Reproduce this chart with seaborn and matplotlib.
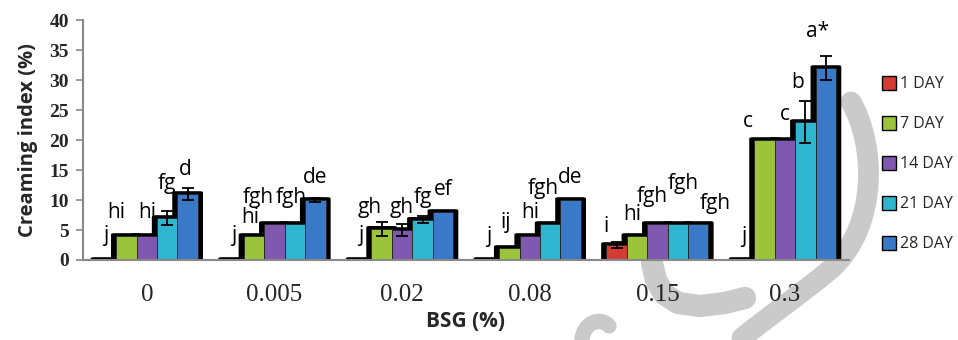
import numpy as np
import pandas as pd
import matplotlib
matplotlib.use("Agg")
import matplotlib.pyplot as plt
from matplotlib.patches import FancyBboxPatch, PathPatch
from matplotlib.path import Path
import seaborn as sns

# data
bsg_levels = ["0", "0.005", "0.02", "0.08", "0.15", "0.3"]
days = ["1 DAY", "7 DAY", "14 DAY", "21 DAY", "28 DAY"]

day1 = [0, 0, 0, 0, 2.5, 0]
day7 = [4, 4, 5.2, 2, 4, 20]
day14 = [4, 6, 5, 4, 6, 20]
day21 = [7, 6, 6.7, 6, 6, 23]
day28 = [11, 10, 8, 10, 6, 32]

err1 = [0, 0, 0, 0, 0.5, 0]
err7 = [0, 0, 1.2, 0, 0, 0]
err14 = [0, 0, 1.0, 0, 0, 0]
err21 = [1.1, 0, 0.6, 0, 0, 3.5]
err28 = [1.0, 0.3, 0, 0, 0, 2.0]

letters1 = ["j", "j", "j", "j", "i", "j"]
letters7 = ["hi", "hi", "gh", "ij", "hi", "c"]
letters14 = ["hi", "fgh", "gh", "hi", "fgh", "c"]
letters21 = ["fg", "fgh", "fg", "fgh", "fgh", "b"]
letters28 = ["d", "de", "ef", "de", "fgh", "a*"]

values = [day1, day7, day14, day21, day28]
errors = [err1, err7, err14, err21, err28]
letters = [letters1, letters7, letters14, letters21, letters28]

# label placement tweaks (style): horizontal shift in px, gap above bar/error in y units
label_dx = [[0, 0, 0, 0, -11, 0],
            [-10, -4, -12, -4, -5, -17],
            [0, -16, 0, 0, -5, 0],
            [0, -4, 0, -7, 5, -8],
            [-2, 0, 0, 0, 17, -8]]
label_dy = [[3.2, 3.2, 3.2, 3.0, 1.7, 3.0],
            [3.0, 2.2, 1.4, 3.3, 2.7, 2.2],
            [3.0, 3.5, 1.8, 3.0, 3.7, 3.3],
            [3.7, 3.5, 2.2, 5.0, 5.8, 2.2],
            [2.2, 2.5, 2.8, 2.8, 2.5, 3.2]]

df = pd.DataFrame({
    "BSG": np.tile(bsg_levels, len(days)),
    "Day": np.repeat(days, len(bsg_levels)),
    "CI": np.concatenate(values),
})

colors = ["#d23c35", "#9cc43a", "#8158b0", "#2eb5d0", "#3a78c8"]

sns.set_style("white")
sans = ["Open Sans", "DejaVu Sans"]
serif = ["Liberation Serif", "DejaVu Serif"]

W, H = 958, 340
fig = plt.figure(figsize=(W / 100, H / 100), dpi=100)

# faint grey watermark strokes on a background layer (pixel coords, origin top-left)
bg = fig.add_axes([0, 0, 1, 1], zorder=-1)
bg.set_xlim(0, W)
bg.set_ylim(H, 0)
bg.axis("off")
def wm(points, lw):
    codes = [Path.MOVETO] + [Path.CURVE4] * (len(points) - 1)
    bg.add_patch(PathPatch(Path(points, codes), facecolor="none", edgecolor="#cacaca",
                           lw=lw, capstyle="round"))
wm([(851, 102), (876, 145), (878, 225), (832, 268),
    (800, 295), (770, 315), (742, 338)], 15)
wm([(582, 340), (583, 323), (600, 316), (609, 326)], 11)
bg.plot([652, 656, 664, 678, 700, 725, 745], [263, 280, 294, 303, 306, 303, 298],
        color="#cacaca", lw=16, solid_capstyle="round", solid_joinstyle="round")

ax = fig.add_axes([0.0866, 0.2353, 0.7995, 0.7057])
ax.patch.set_alpha(0)

sns.barplot(data=df, x="BSG", y="CI", hue="Day", order=bsg_levels,
            hue_order=days, palette=colors, width=0.8, saturation=1,
            errorbar=None, edgecolor="#222222", linewidth=0.6, ax=ax)

# bars are added hue-by-hue, each with one patch per category
bars = list(ax.patches)[:len(days) * len(bsg_levels)]
for k, p in enumerate(bars):
    di, gi = divmod(k, len(bsg_levels))
    x0, w, top = p.get_x(), p.get_width(), p.get_height()
    p.set_zorder(3)
    # soft black "3D" shadow behind each bar
    sh = FancyBboxPatch((x0 - 0.035, 0), w + 0.07, top + 0.35,
                        boxstyle="round,pad=0,rounding_size=0.02",
                        mutation_aspect=6, facecolor="black", edgecolor="black",
                        linewidth=1, zorder=2)
    ax.add_patch(sh)
    cx = x0 + w / 2
    e = errors[di][gi]
    if e > 0:
        ax.errorbar(cx, top, yerr=e, fmt="none", ecolor="black",
                    elinewidth=1.3, capsize=4, capthick=1.3, zorder=5)
    ax.annotate(letters[di][gi], (cx, top + e + label_dy[di][gi]),
                xytext=(label_dx[di][gi] * 0.72, 0), textcoords="offset points",
                ha="center", va="baseline", fontsize=15, family=sans,
                color="black", zorder=6)

ax.set_ylim(0, 40)
ax.set_xlim(-0.5, 5.5)
ax.set_yticks(range(0, 41, 5))
ax.set_yticklabels([str(v) for v in range(0, 41, 5)], family=serif,
                   fontweight="bold", fontsize=14)
ax.set_xticks(range(len(bsg_levels)))
ax.set_xticklabels(bsg_levels, family=serif, fontsize=18)
ax.set_xticks(np.arange(-0.5, 6, 1), minor=True)
ax.tick_params(axis="x", which="major", length=0, pad=17)
ax.tick_params(axis="x", which="minor", length=6, width=1.2, color="#8a8a8a", direction="out")
ax.tick_params(axis="y", length=5, width=1.2, color="#8a8a8a", direction="out", left=True, pad=5)

for s in ["top", "right"]:
    ax.spines[s].set_visible(False)
for s in ["left", "bottom"]:
    ax.spines[s].set_color("#8a8a8a")
    ax.spines[s].set_linewidth(1.5)
    ax.spines[s].set_zorder(4)

ax.set_xlabel("BSG (%)", family=sans, fontweight="bold", fontsize=15, labelpad=4)
ax.set_ylabel("Creaming index (%)", family=sans, fontweight="bold", fontsize=14.5, labelpad=8)

handles, labels = ax.get_legend_handles_labels()
for h in handles:
    h.set_edgecolor("black")
    h.set_linewidth(1.0)
leg = ax.legend(handles, labels, loc="center left", bbox_to_anchor=(1.035, 0.40),
                frameon=False, prop={"family": sans, "size": 11.5},
                handlelength=0.9, handleheight=1.05, handletextpad=0.25,
                labelspacing=1.45, borderaxespad=0)

fig.savefig("out.png", dpi=100)
